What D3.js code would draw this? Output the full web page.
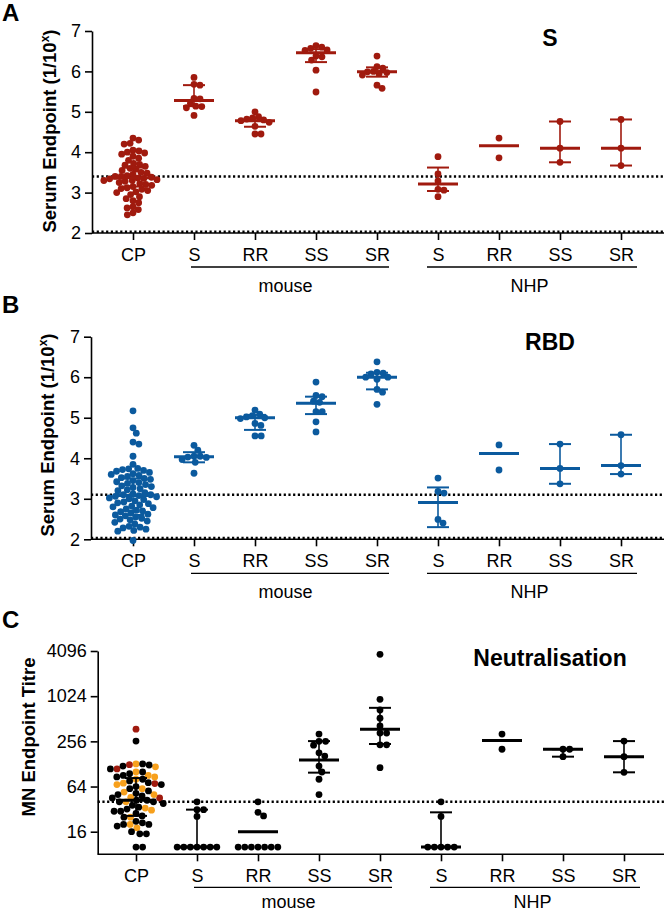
<!DOCTYPE html>
<html><head><meta charset="utf-8">
<script src="https://cdn.jsdelivr.net/npm/d3@7"></script>
<style>
body{margin:0;background:#fff;}
text{font-family:"Liberation Sans",Arial,sans-serif;fill:#000;}
</style></head>
<body><svg id="c" width="665" height="912"></svg>
<script>
// ---------- categories ----------
const groupIds = ["CP","mS","mRR","mSS","mSR","nS","nRR","nSS","nSR"];
const groupLabels = ["CP","S","RR","SS","SR","S","RR","SS","SR"];
const speciesLabels = ["mouse","NHP"];

// ---------- Panel A : S (log10 endpoint) ----------
const aCP = [4.35,4.3,4.22,4.2,4.05,4.03,4.0,3.98,3.95,3.9,3.85,3.8,3.72,3.7,3.68,3.65,3.6,3.58,3.55,3.5,3.48,3.45,3.42,3.4,3.4,3.38,3.36,3.35,3.34,3.32,3.3,3.3,3.28,3.25,3.22,3.2,3.18,3.15,3.12,3.1,3.08,3.05,3.02,3.0,2.95,2.9,2.85,2.8,2.75,2.65,2.62,2.58,2.5,2.45];
const aMouseS  = [5.85,5.68,5.66,5.33,5.32,5.21,5.14,5.13,5.10,4.91];
const aMouseRR = [5.0,4.88,4.85,4.82,4.8,4.78,4.74,4.64,4.45,4.45];
const aMouseSS = [6.64,6.6,6.57,6.53,6.52,6.38,6.36,6.28,6.03,5.49];
const aMouseSR = [6.38,6.12,6.08,6.0,5.99,5.97,5.95,5.91,5.66,5.58];
const aNhpS  = [3.89,3.46,3.29,3.08,3.06,2.90];
const aNhpRR = [4.35,3.86];
const aNhpSS = [4.76,4.10,3.75];
const aNhpSR = [4.81,4.10,3.67];
const aMed = [3.37,5.28,4.78,6.46,5.99,3.21,4.16,4.10,4.10];
const aLo  = [3.15,5.14,4.63,6.23,5.87,3.04,null,3.75,3.67];
const aHi  = [3.62,5.66,4.84,6.55,6.10,3.62,null,4.76,4.81];
const aTicks = [2,3,4,5,6,7];
const aCutoff = 3.4;

// ---------- Panel B : RBD ----------
const bCP = [5.17,4.75,4.62,4.4,4.35,4.05,3.85,3.75,3.74,3.72,3.7,3.68,3.65,3.62,3.6,3.58,3.55,3.52,3.5,3.48,3.45,3.42,3.4,3.38,3.35,3.32,3.3,3.28,3.25,3.22,3.2,3.15,3.12,3.1,3.1,3.08,3.06,3.05,3.02,3.0,2.98,2.95,2.92,2.9,2.88,2.85,2.82,2.8,2.78,2.75,2.72,2.7,2.68,2.65,2.62,2.6,2.58,2.55,2.52,2.5,2.48,2.45,2.42,2.38,2.32,2.3,2.28,2.25,2.22,2.2,1.97];
const bMouseS  = [4.32,4.2,4.05,4.05,4.03,4.02,3.97,3.9,3.63];
const bMouseRR = [5.19,5.09,5.05,5.02,5.0,4.98,4.86,4.81,4.55,4.55];
const bMouseSS = [5.88,5.55,5.52,5.41,5.38,5.15,5.15,4.9,4.65];
const bMouseSR = [6.38,6.12,6.1,6.08,6.0,6.0,5.95,5.7,5.63,5.33];
const bNhpS  = [3.51,3.18,3.14,2.49,2.40];
const bNhpRR = [4.33,3.71];
const bNhpSS = [4.35,3.75,3.37];
const bNhpSR = [4.58,3.82,3.61];
const bMed = [3.08,4.04,5.0,5.36,6.0,2.91,4.12,3.75,3.82];
const bLo  = [2.6,3.9,4.7,5.09,5.70,2.30,null,3.37,3.61];
const bHi  = [3.5,4.15,5.07,5.52,6.11,3.28,null,4.35,4.58];
const bTicks = [2,3,4,5,6,7];
const bCutoff = 3.1;

// ---------- Panel C : Neutralisation (MN titre) ----------
const cCPblack  = [258,128,124,120,110,100,95,90,86,80,76,72,68,64,60,56,52,50,48,45,42,42,40,40,38,36,34,32,30,30,28,26,25,22,21,20,20,19,16,15,15,10,10];
const cCPorange = [128,117,100,90,86,80,71,68,60,54,50,46,40,33,31,25,20,18];
const cCPred    = [372,125,110,70,45];
const cMouseS  = [40,31.5,31.5,25.6,10,10,10,10,10,10,10];
const cMouseRR = [40,29,26,10,10,10,10,10,10,10];
const cMouseSS = [320,256,256,228,180,163,120,100,80,50];
const cMouseSR = [3700,930,670,520,410,330,330,230,230,114];
const cNhpS  = [40,25.6,10,10,10,10,10];
const cNhpRR = [320,201];
const cNhpSS = [201,201,160];
const cNhpSR = [258,160,99];
const cMed = [42,10,16,144,372,10,262,201,160];
const cLo  = [26,10,null,98,236,10,null,160,99];
const cHi  = [83,31.5,null,258,716,29,null,201,258];
const cTicks = [16,64,256,1024,4096];
const cCutoff = 40;

const RED = "#a01a0e", BLUE = "#0b5a9e", ORANGE = "#f7a01c", BLACK = "#000";

const svg = d3.select("#c");
const FONT = 18;

function swarm(ys, d){
  const idx = ys.map((y,i)=>i).sort((a,b)=>ys[a]-ys[b]);
  const placed = [], off = new Array(ys.length);
  for (const i of idx){
    const y = ys[i];
    const cands = [0];
    for (const p of placed){
      const dy = Math.abs(p.y-y);
      if (dy < d){ const dx = Math.sqrt(d*d-dy*dy); cands.push(p.x+dx+0.01, p.x-dx-0.01); }
    }
    cands.sort((a,b)=>Math.abs(a)-Math.abs(b) || b-a);
    for (const c of cands){
      if (placed.every(p => (p.x-c)*(p.x-c)+(p.y-y)*(p.y-y) >= d*d-0.02)){ off[i]=c; break; }
    }
    placed.push({x:off[i], y});
  }
  return off;
}

function panel(cfg){
  const g = svg.append("g");
  const x = d3.scalePoint().domain(groupIds).range(cfg.xRange);
  const y = cfg.y;
  const ya = d3.axisLeft(y).tickValues(cfg.ticks).tickSize(7).tickSizeOuter(0).tickPadding(4)
     .tickFormat(d3.format("d"));
  const yg = g.append("g").attr("transform",`translate(${cfg.axisX},0)`).call(ya);
  yg.select(".domain").attr("stroke","#000").attr("stroke-width",1.6);
  yg.selectAll(".tick line").attr("stroke","#000").attr("stroke-width",1.6);
  yg.selectAll(".tick text").style("font-size",FONT+"px").style("font-family","Liberation Sans, Arial");
  const y0 = y.range()[0];
  g.append("line").attr("x1",cfg.axisX).attr("x2",664).attr("y1",y0).attr("y2",y0)
    .attr("stroke","#000").attr("stroke-width",1.6);
  const xa = d3.axisBottom(x).tickSize(7).tickSizeOuter(0).tickPadding(8).tickFormat((d,i)=>groupLabels[i]);
  const xg = g.append("g").attr("transform",`translate(0,${y0})`).call(xa);
  xg.select(".domain").remove();
  xg.selectAll(".tick line").attr("stroke","#000").attr("stroke-width",1.6);
  xg.selectAll(".tick text").style("font-size",FONT+"px").style("font-family","Liberation Sans, Arial");
  cfg.dotted.forEach(v=>{
    const yy = y(v) - (v===cfg.baseDot ? 1.2 : 0);
    g.append("line").attr("x1",cfg.axisX).attr("x2",664).attr("y1",yy).attr("y2",yy)
      .attr("stroke","#000").attr("stroke-width",2.5).attr("stroke-dasharray","2.2,2.5");
  });
  const sp = [["mS","mSR",-3,12],["nS","nSR",-11,16]];
  sp.forEach((s,i)=>{
    const x1 = x(s[0])+s[2], x2 = x(s[1])+s[3];
    g.append("line").attr("x1",x1).attr("x2",x2).attr("y1",y0+cfg.brY).attr("y2",y0+cfg.brY)
      .attr("stroke","#000").attr("stroke-width",1.3);
    g.append("text").attr("x",(x(s[0])+x(s[1]))/2).attr("y",y0+cfg.spY).attr("text-anchor","middle")
      .style("font-size",FONT+"px").text(speciesLabels[i]);
  });
  cfg.groups.forEach((pts,gi)=>{
    const cx = x(groupIds[gi]);
    const ys = pts.map(p=>y(p.v));
    const off = swarm(ys, cfg.spacing || 6.2);
    g.append("g").selectAll("circle").data(pts).join("circle")
      .attr("cx",(d,i)=>cx+off[i]).attr("cy",(d,i)=>ys[i]).attr("r",3.4)
      .attr("fill",d=>d.c);
  });
  groupIds.forEach((id,i)=>{
    const cx = x(id), col = cfg.barColor;
    if (cfg.lo[i]!=null){
      g.append("line").attr("x1",cx).attr("x2",cx).attr("y1",y(cfg.lo[i])).attr("y2",y(cfg.hi[i]))
        .attr("stroke",col).attr("stroke-width",1.6);
      [cfg.lo[i],cfg.hi[i]].forEach(v=>g.append("line").attr("x1",cx-11).attr("x2",cx+11)
        .attr("y1",y(v)).attr("y2",y(v)).attr("stroke",col).attr("stroke-width",2));
    }
    g.append("line").attr("x1",cx-20).attr("x2",cx+20).attr("y1",y(cfg.med[i])).attr("y2",y(cfg.med[i]))
      .attr("stroke",col).attr("stroke-width",3);
  });
  g.append("text").attr("x",550).attr("y",cfg.titleY).attr("text-anchor","middle")
    .style("font-size","23px").style("font-weight","bold").text(cfg.title);
  g.append("text").attr("x",2).attr("y",cfg.letterY).style("font-size","24px").style("font-weight","bold").text(cfg.letter);
  const yl = g.append("text").attr("transform",`translate(${cfg.ylabX},${cfg.ylabY}) rotate(-90)`)
    .attr("text-anchor","middle").style("font-size","18.5px").style("font-weight","bold");
  cfg.ylab(yl);
}

const mk = (arr,c)=>arr.map(v=>({v,c}));
// interleave colour subsets so the swarm mixes them
function interleave(...lists){
  const out = [], n = d3.max(lists, l=>l.length);
  for (let i=0;i<n;i++) lists.forEach(l=>{ if (i<l.length) out.push(l[i]); });
  return out;
}
const supX = t=>{ t.append("tspan").text("Serum Endpoint (1/10"); t.append("tspan").attr("dy",-7).style("font-size","12px").text("x"); t.append("tspan").attr("dy",7).text(")"); };

panel({
  xRange:[133,621], axisX:92,
  y: d3.scaleLinear().domain([2,7]).range([233,31]),
  ticks:aTicks, dotted:[aCutoff,2], baseDot:2, brY:34, spY:59, spacing:6.0,
  groups:[mk(aCP,RED),mk(aMouseS,RED),mk(aMouseRR,RED),mk(aMouseSS,RED),mk(aMouseSR,RED),
          mk(aNhpS,RED),mk(aNhpRR,RED),mk(aNhpSS,RED),mk(aNhpSR,RED)],
  med:aMed, lo:aLo, hi:aHi, barColor:RED,
  title:"S", titleY:46, letter:"A", letterY:21, ylabX:56, ylabY:131, ylab:supX
});

panel({
  xRange:[133,621], axisX:91,
  y: d3.scaleLinear().domain([2,7]).range([539.3,336.7]),
  ticks:bTicks, dotted:[bCutoff,2], baseDot:2, brY:34, spY:59,
  groups:[mk(bCP,BLUE),mk(bMouseS,BLUE),mk(bMouseRR,BLUE),mk(bMouseSS,BLUE),mk(bMouseSR,BLUE),
          mk(bNhpS,BLUE),mk(bNhpRR,BLUE),mk(bNhpSS,BLUE),mk(bNhpSR,BLUE)],
  med:bMed, lo:bLo, hi:bHi, barColor:BLUE,
  title:"RBD", titleY:350, letter:"B", letterY:313, ylabX:54, ylabY:435, ylab:supX
});

const cCP = interleave(mk(cCPblack,BLACK), mk(cCPorange,ORANGE), mk(cCPred,RED));
panel({
  xRange:[136,624], axisX:97.7,
  y: d3.scaleLog().base(2).domain([8,4096]).range([854.3,651]),
  ticks:cTicks, dotted:[cCutoff], baseDot:null, brY:33, spY:54, spacing:6.6,
  groups:[cCP,mk(cMouseS,BLACK),mk(cMouseRR,BLACK),mk(cMouseSS,BLACK),mk(cMouseSR,BLACK),
          mk(cNhpS,BLACK),mk(cNhpRR,BLACK),mk(cNhpSS,BLACK),mk(cNhpSR,BLACK)],
  med:cMed, lo:cLo, hi:cHi, barColor:BLACK,
  title:"Neutralisation", titleY:666, letter:"C", letterY:628, ylabX:35, ylabY:737,
  ylab: t=>{ t.text("MN Endpoint Titre"); }
});
</script></body></html>
